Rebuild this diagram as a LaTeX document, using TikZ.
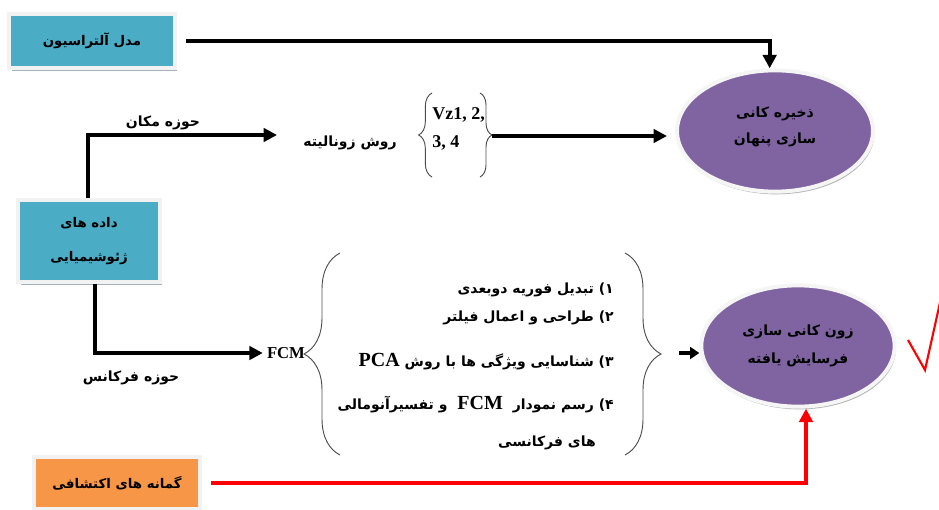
\documentclass[tikz,border=0pt]{standalone}
\usepackage{fontspec}
\setmainfont{Liberation Serif}
\newfontfamily\farsi[Script=Arabic]{DejaVu Sans}
\TeXXeTstate=1
\usetikzlibrary{arrows.meta,shapes.geometric,shadows,decorations.pathreplacing}
\definecolor{boxteal}{HTML}{4BACC6}
\definecolor{boxorange}{HTML}{F79646}
\definecolor{ellpurple}{HTML}{8064A2}
\definecolor{shadegray}{HTML}{A3B3B9}
\newcommand{\fatxt}[1]{{\farsi\bfseries\beginR #1\endR}}
\newcommand{\latin}[1]{\beginL{\rmfamily\bfseries #1}\endL}

\tikzset{
  box/.style={rectangle, fill=boxteal, draw=gray!10, line width=3pt,
    drop shadow={shadow xshift=2pt, shadow yshift=-2pt, fill=shadegray, opacity=1},
    font=\fontsize{10}{26}\selectfont, align=center},
  ell/.style={ellipse, fill=ellpurple, draw=gray!8, line width=3pt,
    drop shadow={shadow xshift=1pt, shadow yshift=-2pt, fill=gray!60, opacity=1}},
  lbl/.style={font=\fontsize{10.5}{20}\selectfont, inner sep=0pt, align=center},
  arr/.style={line width=3pt, -{Triangle[length=10pt,width=10pt]}},
  brc/.style={decorate, decoration={brace,amplitude=#1}, draw=gray!60!black, line width=0.7pt},
}

\begin{document}
\begin{tikzpicture}[x=0.75pt,y=-0.75pt]
\useasboundingbox (0,0) rectangle (939,510);
% Boxes
\node[box, minimum width=124pt, minimum height=41pt] (alt) at (92,41) {\fatxt{مدل آلتراسیون}};
\node[box, minimum width=106pt, minimum height=62pt] (geo) at (89,241) {\fatxt{داده های}\\\fatxt{ژئوشیمیایی}};
\node[box, fill=boxorange, minimum width=124pt, minimum height=39pt] (bor) at (117,483) {\fatxt{گمانه های اکتشافی}};
% Ellipses
\node[ell, minimum width=147pt, minimum height=91pt] (hid) at (775,131) {};
\node[lbl] at ([yshift=3pt]hid.center) {\fatxt{ذخیره کانی}\\\fatxt{سازی پنهان}};
\node[ell, minimum width=145pt, minimum height=91pt, lbl, font=\fontsize{10.5}{21}\selectfont] (ero) at (798,346) {\fatxt{زون کانی سازی}\\\fatxt{فرسایش یافته}};
% Upper branch
\coordinate (mkn) at (277,135);
\coordinate (vzr) at (492,136);
\node[lbl] at (163,123) {\fatxt{حوزه مکان}};
\node[lbl] (zon) at (350,143) {\fatxt{روش زونالیته}};
\draw[brc=10pt] (432,177) -- (432,93);
\draw[brc=9pt] (480,93) -- (480,177);
\node[anchor=west, inner sep=0pt, align=left, font=\rmfamily\bfseries\fontsize{13.5}{21}\selectfont] (vz) at (432,129) {Vz1, 2,\\3, 4};
% Lower branch
\node[font=\rmfamily\bfseries\fontsize{12.5}{14}\selectfont, inner sep=1pt] (fcm) at (286,353) {FCM};
\node[lbl] at (131,378) {\fatxt{حوزه فرکانس}};
\coordinate (fcr) at (663,353);
\draw[brc=27pt] (340,455) -- (340,253);
\draw[brc=27pt] (625,253) -- (625,455);
\node[lbl, anchor=east] (s1) at (614,290) {\fatxt{۱) تبدیل فوریه دوبعدی}};
\node[lbl, anchor=east] (s2) at (614,318) {\fatxt{۲) طراحی و اعمال فیلتر}};
\node[lbl, anchor=east] (s3) at (614,362) {\fatxt{۳) شناسایی ویژگی ها با روش \latin{\fontsize{15}{16}\selectfont PCA}}};
\node[lbl, anchor=east] (s4) at (614,405) {\fatxt{۴) رسم نمودار \latin{\fontsize{15}{16}\selectfont\ FCM\ } و تفسیرآنومالی}};
\node[lbl, anchor=east] (s5) at (596,443) {\fatxt{های فرکانسی}};
% Connectors
\draw[arr] ([xshift=7pt]alt.east) -| ([xshift=-4pt]hid.north);
\draw[arr] ([xshift=-1pt]geo.north) |- (mkn);
\draw[arr, shorten >=6pt] (vzr) -- (vzr -| hid.west);
\draw[arr, shorten >=2pt] ([xshift=4.5pt]geo.south) |- (fcm.west);
\draw[line width=3pt, -{Triangle[length=7pt,width=9pt]}, shorten <=12pt] (fcr) -- (fcr -| ero.west);
\draw[arr, red, line width=2.8pt] ([xshift=7pt]bor.east) -| ([xshift=6pt]ero.south);
% Check mark
\draw[red, line width=1.6pt] (908,340) -- (925,370) -- (941,298);
\end{tikzpicture}
\end{document}
